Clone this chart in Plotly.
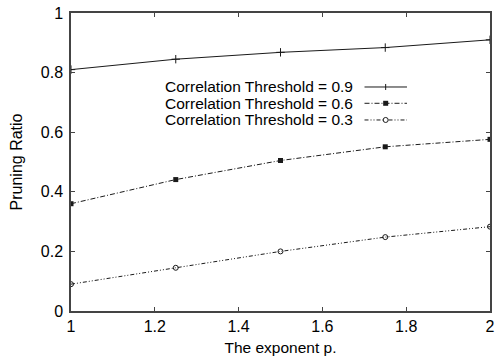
import plotly.graph_objects as go

x_vals = [1.0, 1.25, 1.5, 1.75, 2.0]
ct09 = [0.81, 0.845, 0.868, 0.884, 0.91]
ct06 = [0.36, 0.441, 0.505, 0.551, 0.576]
ct03 = [0.09, 0.145, 0.200, 0.248, 0.283]
labels = ["Correlation Threshold = 0.9", "Correlation Threshold = 0.6", "Correlation Threshold = 0.3"]

FONT = "Liberation Sans, Arial, Helvetica, sans-serif"
LC = "#1a1a1a"

fig = go.Figure()
fig.add_trace(go.Scatter(x=x_vals, y=ct09, mode="lines+markers", name=labels[0],
                         line=dict(color=LC, width=1),
                         marker=dict(symbol="cross-thin-open", size=6, line=dict(color=LC, width=1))))
fig.add_trace(go.Scatter(x=x_vals, y=ct06, mode="lines+markers", name=labels[1],
                         line=dict(color=LC, width=1, dash="5px,2px,1px,2px"),
                         marker=dict(symbol="square", size=5, color=LC)))
fig.add_trace(go.Scatter(x=x_vals, y=ct03, mode="lines+markers", name=labels[2],
                         line=dict(color=LC, width=1, dash="4px,2px,1px,2px,1px,2px"),
                         marker=dict(symbol="circle-open", size=5, color=LC, line=dict(color=LC, width=1))))

# manual legend (text on left, sample on right)
rows_y = [0.7517, 0.697, 0.641]
dashes = ["solid", "5px,2px,1px,2px", "4px,2px,1px,2px,1px,2px"]
annotations = []
shapes = []
for i, (lab, yy) in enumerate(zip(labels, rows_y)):
    annotations.append(dict(text=lab, x=0.677, y=yy, xref="paper", yref="paper",
                            xanchor="right", yanchor="middle", showarrow=False,
                            font=dict(family=FONT, size=15.5, color="#000")))
    shapes.append(dict(type="line", xref="paper", yref="paper", x0=0.7005, x1=0.8019,
                       y0=yy, y1=yy, line=dict(color=LC, width=1, dash=dashes[i])))
cx = 0.751
shapes.append(dict(type="line", xref="paper", yref="paper", xsizemode="pixel", ysizemode="pixel",
                   xanchor=cx, yanchor=rows_y[0], x0=0, x1=0, y0=-3, y1=3, line=dict(color=LC, width=1)))
shapes.append(dict(type="rect", xref="paper", yref="paper", xsizemode="pixel", ysizemode="pixel",
                   xanchor=cx, yanchor=rows_y[1], x0=-2.5, x1=2.5, y0=-2.5, y1=2.5,
                   fillcolor=LC, line=dict(color=LC, width=0)))
shapes.append(dict(type="circle", xref="paper", yref="paper", xsizemode="pixel", ysizemode="pixel",
                   xanchor=cx, yanchor=rows_y[2], x0=-2.5, x1=2.5, y0=-2.5, y1=2.5,
                   fillcolor="white", line=dict(color=LC, width=1)))

axis_common = dict(showline=True, linecolor="#444", linewidth=1.5, mirror="allticks",
                   ticks="inside", ticklen=4, tickcolor="#444", showgrid=False, zeroline=False,
                   tickfont=dict(family=FONT, size=16, color="#000"))

fig.update_layout(
    width=498, height=364,
    margin=dict(l=71, r=3, t=13, b=53),
    paper_bgcolor="white", plot_bgcolor="white",
    showlegend=False,
    annotations=annotations, shapes=shapes,
    xaxis=dict(range=[1, 2], tickvals=[1, 1.2, 1.4, 1.6, 1.8, 2],
               ticktext=["1", "1.2", "1.4", "1.6", "1.8", "2"],
               title=dict(text="The exponent p.", font=dict(family=FONT, size=15.5, color="#000"), standoff=8),
               **axis_common),
    yaxis=dict(range=[0, 1], tickvals=[0, 0.2, 0.4, 0.6, 0.8, 1],
               ticktext=["0", "0.2", "0.4", "0.6", "0.8", "1"],
               ticklabelstandoff=3,
               title=dict(text="Pruning Ratio", font=dict(family=FONT, size=16, color="#000"), standoff=14),
               **axis_common),
)
fig.write_html("out.html")
